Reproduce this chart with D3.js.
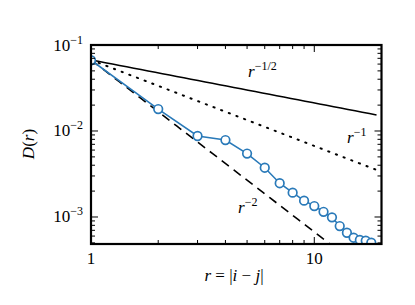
<!DOCTYPE html>
<html><head><meta charset="utf-8">
<script src="https://cdn.jsdelivr.net/npm/d3@7"></script>
<style>
html,body{margin:0;padding:0;background:#fff;}
text{font-family:"Liberation Serif","DejaVu Serif",serif;}
</style></head>
<body>
<svg id="chart" width="415" height="305"></svg>
<script>
// ---- data ----
const rValues = [1,2,3,4,5,6,7,8,9,10,11,12,13,14,15,16,17,18];
const dValues = [0.0665,0.0180,0.00875,0.00785,0.00547,0.00374,0.00247,0.00192,0.00155,0.00134,0.00115,0.00099,0.000785,0.000656,0.000574,0.00054,0.00053,0.000503];
const refExponents = [-0.5, -1, -2];
const refLabels = ["−1/2", "−1", "−2"];
const refStyles = ["solid", "dotted", "dashed"];
const refConst = 0.067;
const refRange = [1, 19];
const xTickValues = [1, 10];
const xTickLabels = ["1", "10"];
const yTickExps = [-1, -2, -3];

// ---- layout ----
const svg = d3.select("#chart");
const L = 91, R = 381.5, T = 45, B = 244;
const x = d3.scaleLog().domain([1, 20]).range([L, R]);
const y = d3.scaleLog().domain([Math.pow(10, -3.314), 0.1]).range([B, T]);

svg.append("defs").append("clipPath").attr("id","clip")
  .append("rect").attr("x",L).attr("y",T).attr("width",R-L).attr("height",B-T);

const g = svg.append("g").attr("clip-path","url(#clip)");

// reference power laws
const dashMap = {solid:null, dotted:"1.2,7", dashed:"9,6"};
refExponents.forEach((a,i)=>{
  const pts = d3.range(0, 41).map(k=>{
    const rr = refRange[0]*Math.pow(refRange[1]/refRange[0], k/40);
    return [rr, refConst*Math.pow(rr, a)];
  });
  g.append("path")
    .attr("d", d3.line().x(d=>x(d[0])).y(d=>y(d[1]))(pts))
    .attr("fill","none").attr("stroke","#000")
    .attr("stroke-width", refStyles[i]==="dotted"?2:1.6)
    .attr("stroke-linecap", refStyles[i]==="dotted"?"round":"butt")
    .attr("stroke-dasharray", dashMap[refStyles[i]]);
});

// data series
const blue = "#2a7ab9";
const pts = rValues.map((r,i)=>[r, dValues[i]]);
g.append("path")
  .attr("d", d3.line().x(d=>x(d[0])).y(d=>y(d[1]))(pts))
  .attr("fill","none").attr("stroke",blue).attr("stroke-width",1.6);
g.selectAll("circle.pt").data(pts).enter().append("circle")
  .attr("cx",d=>x(d[0])).attr("cy",d=>y(d[1])).attr("r",4.3)
  .attr("fill","#fff").attr("stroke",blue).attr("stroke-width",1.7);

// ticks (inward, all four sides)
const ax = svg.append("g").attr("stroke","#000").attr("stroke-width",1);
const xMinor = [], xMajor = xTickValues;
for (let d=1; d<=10; d*=10) for (let k=2;k<=9;k++){ if (d*k<20) xMinor.push(d*k); }
const yMajor = yTickExps.map(e=>Math.pow(10,e));
const yMinor = [];
for (let e=-4; e<=-2; e++) for (let k=2;k<=9;k++){ const v=k*Math.pow(10,e); if (v>y.domain()[0] && v<0.1) yMinor.push(v); }
const majLen = 7, minLen = 4;
xMajor.forEach(v=>{ const px=x(v);
  ax.append("line").attr("x1",px).attr("x2",px).attr("y1",B).attr("y2",B-majLen);
  ax.append("line").attr("x1",px).attr("x2",px).attr("y1",T).attr("y2",T+majLen);});
xMinor.forEach(v=>{ const px=x(v);
  ax.append("line").attr("x1",px).attr("x2",px).attr("y1",B).attr("y2",B-minLen);
  ax.append("line").attr("x1",px).attr("x2",px).attr("y1",T).attr("y2",T+minLen);});
yMajor.forEach(v=>{ const py=y(v);
  ax.append("line").attr("x1",L).attr("x2",L+majLen).attr("y1",py).attr("y2",py);
  ax.append("line").attr("x1",R).attr("x2",R-majLen).attr("y1",py).attr("y2",py);});
yMinor.forEach(v=>{ const py=y(v);
  ax.append("line").attr("x1",L).attr("x2",L+minLen).attr("y1",py).attr("y2",py);
  ax.append("line").attr("x1",R).attr("x2",R-minLen).attr("y1",py).attr("y2",py);});

// frame
svg.append("rect").attr("x",L).attr("y",T).attr("width",R-L).attr("height",B-T)
  .attr("fill","none").attr("stroke","#000").attr("stroke-width",2.2);

// tick labels
xTickValues.forEach((v,i)=>{
  svg.append("text").attr("x",x(v)).attr("y",263.5).attr("text-anchor","middle")
    .attr("font-size",17).text(xTickLabels[i]);
});
yTickExps.forEach(e=>{
  const t = svg.append("text").attr("x",83).attr("y",y(Math.pow(10,e))+5.5)
    .attr("text-anchor","end").attr("font-size",17);
  t.append("tspan").text("10");
  t.append("tspan").attr("dy",-7).attr("font-size",12).text("−"+(-e));
});

// reference labels
const labelPos = [[248,77],[347,143],[238,213]];
refLabels.forEach((s,i)=>{
  const t = svg.append("text").attr("x",labelPos[i][0]).attr("y",labelPos[i][1])
    .attr("font-size",17);
  t.append("tspan").attr("font-style","italic").text("r");
  t.append("tspan").attr("dy",-7).attr("font-size",12).text(s);
});

// axis labels
const xl = svg.append("text").attr("x",234).attr("y",281).attr("text-anchor","middle").attr("font-size",17);
xl.append("tspan").attr("font-style","italic").text("r");
xl.append("tspan").text(" = |");
xl.append("tspan").attr("font-style","italic").text("i");
xl.append("tspan").text(" − ");
xl.append("tspan").attr("font-style","italic").text("j");
xl.append("tspan").text("|");

const yl = svg.append("text").attr("transform","translate(34,144) rotate(-90)")
  .attr("text-anchor","middle").attr("font-size",17);
yl.append("tspan").attr("font-style","italic").text("D");
yl.append("tspan").text("(");
yl.append("tspan").attr("font-style","italic").text("r");
yl.append("tspan").text(")");
</script>
</body></html>
